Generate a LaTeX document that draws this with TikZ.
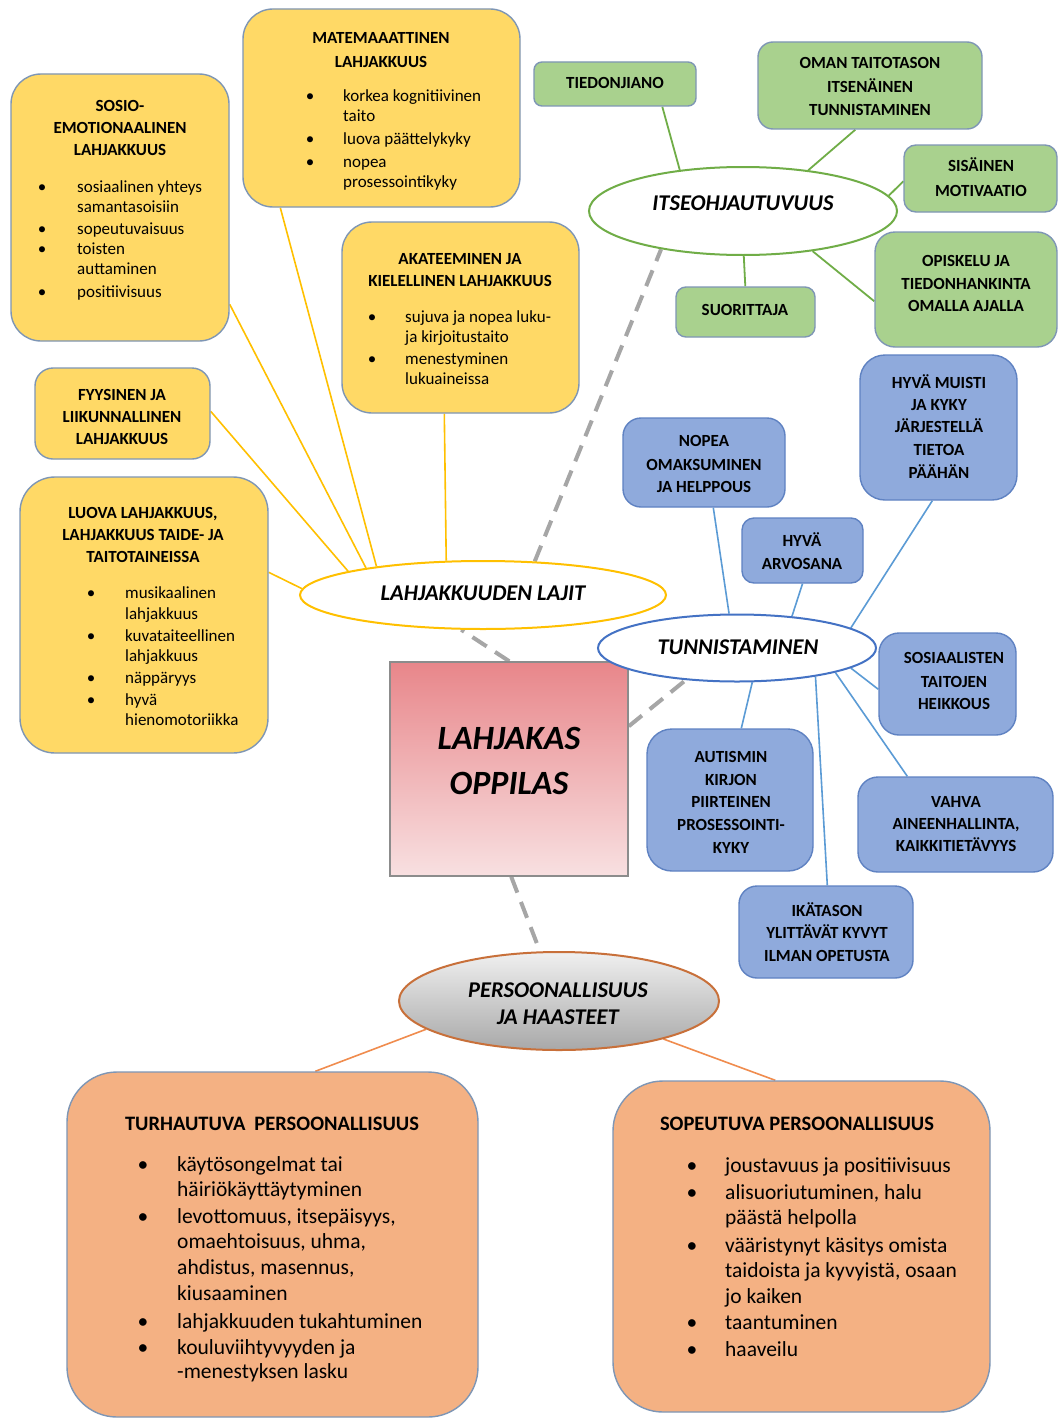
\documentclass[tikz,border=0pt]{standalone}
\usepackage{fontspec}
\setmainfont{Carlito}
\usetikzlibrary{shapes.geometric,calc,backgrounds}
\definecolor{yfill}{HTML}{FFD966}
\definecolor{yline}{HTML}{FFC000}
\definecolor{bord}{HTML}{7E96B5}
\definecolor{gfill}{HTML}{A9D18E}
\definecolor{gline}{HTML}{70AD47}
\definecolor{bfill}{HTML}{8FAADC}
\definecolor{bbord}{HTML}{5F82C2}
\definecolor{bline}{HTML}{5B9BD5}
\definecolor{tbord}{HTML}{4472C4}
\definecolor{ofill}{HTML}{F4B183}
\definecolor{oline}{HTML}{F08C4E}
\definecolor{pbord}{HTML}{C8703A}
\definecolor{dgray}{HTML}{A6A6A6}
\definecolor{ctop}{HTML}{E8868A}
\definecolor{cbot}{HTML}{F8E0E1}
\definecolor{cbord}{HTML}{8C8C8C}
\tikzset{
 boxbase/.style={rectangle, draw, line width=1.4, inner sep=0},
 ybox/.style={boxbase, draw=bord, fill=yfill},
 gbox/.style={boxbase, draw=bord, fill=gfill},
 bluebox/.style={boxbase, draw=bbord, fill=bfill},
 obox/.style={boxbase, draw=bord, fill=ofill},
 ellbase/.style={ellipse, draw, line width=2, fill=white, inner sep=0},
 ttl/.style={font=\fontsize{17}{20}\selectfont\bfseries, inner sep=0, anchor=base},
 txs/.style={font=\fontsize{17}{20}\selectfont, inner sep=0},
 btl/.style={font=\fontsize{20.5}{25}\selectfont\bfseries, inner sep=0, anchor=base},
 btx/.style={font=\fontsize{21.5}{26}\selectfont, inner sep=0},
 etx/.style={font=\fontsize{22.5}{26}\selectfont\bfseries\itshape, inner sep=0, anchor=base},
 ctx/.style={font=\fontsize{34}{40}\selectfont\bfseries\itshape, inner sep=0, anchor=base},
 yconn/.style={draw=yline, line width=1.6},
 gconn/.style={draw=gline, line width=1.8},
 bconn/.style={draw=bline, line width=1.6},
 oconn/.style={draw=oline, line width=1.6},
 dconn/.style={draw=dgray, line width=4, dash pattern=on 17pt off 10pt},
}
\newcommand\tlines[4]{%
 \foreach \yy/\ltx [count=\i] in {#4}{\node[#2] (#1-h\i) at (#3,\yy) {\ltx};}}
\newcommand\blist[5]{%
 \foreach \yy/\bb/\ltx [count=\i] in {#5}{%
   \node[#2, anchor=base west] (#1-t\i) at (#4,\yy) {\ltx};
   \ifnum\bb=1 \node[#2, anchor=base] (#1-b\i) at (#3,\yy) {\textbullet};\fi
 }}
\begin{document}
\begin{tikzpicture}[x=1pt,y=-1pt]
\useasboundingbox (0,0) rectangle (1063,1418);
\begin{scope}[on background layer]
\fill[white] (0,0) rectangle (1063,1418);
\end{scope}

% yellow boxes
\node[ybox, rounded corners=30, minimum width=218, minimum height=267] (sosio) at (120,207.5) {};
\node[ybox, rounded corners=30, minimum width=277, minimum height=198] (mat) at (381.5,108) {};
\node[ybox, rounded corners=30, minimum width=237, minimum height=191] (akat) at (460.5,317.5) {};
\node[ybox, rounded corners=18, minimum width=175, minimum height=91] (fyys) at (122.5,413.5) {};
\node[ybox, rounded corners=35, minimum width=248, minimum height=276] (luova) at (144,615) {};
% green boxes
\node[gbox, rounded corners=8, minimum width=162, minimum height=44] (tied) at (615,84) {};
\node[gbox, rounded corners=15, minimum width=224, minimum height=87] (oman) at (870,85.5) {};
\node[gbox, rounded corners=12, minimum width=153, minimum height=67] (sis) at (980.5,178.5) {};
\node[gbox, rounded corners=20, minimum width=182, minimum height=115] (opis) at (966,289.5) {};
\node[gbox, rounded corners=10, minimum width=139, minimum height=50] (suor) at (745.5,312) {};
% blue boxes
\node[bluebox, rounded corners=18, minimum width=162, minimum height=89] (nopea) at (704,462.5) {};
\node[bluebox, rounded corners=12, minimum width=121, minimum height=65] (arvo) at (802.5,550.5) {};
\node[bluebox, rounded corners=25, minimum width=157, minimum height=145] (muisti) at (938.5,427.5) {};
\node[bluebox, rounded corners=20, minimum width=137, minimum height=102] (sosi) at (947.5,684) {};
\node[bluebox, rounded corners=25, minimum width=166, minimum height=142] (aut) at (730,800) {};
\node[bluebox, rounded corners=20, minimum width=195, minimum height=95] (vahva) at (955.5,824.5) {};
\node[bluebox, rounded corners=18, minimum width=174, minimum height=92] (ika) at (826,932) {};
% orange boxes
\node[obox, rounded corners=50, minimum width=411, minimum height=345] (turh) at (272.5,1244.5) {};
\node[obox, rounded corners=50, minimum width=377, minimum height=331] (sope) at (801.5,1246.5) {};
% centre
\node[rectangle, draw=cbord, line width=1.5, top color=ctop, bottom color=cbot, minimum width=238, minimum height=214, inner sep=0] (core) at (509,769) {};
% ellipses
\node[ellbase, draw=yline, minimum width=366, minimum height=68] (lahj) at (483,595) {};
\node[ellbase, draw=gline, minimum width=308, minimum height=88] (itse) at (743,211) {};
\node[ellbase, draw=tbord, minimum width=278, minimum height=67] (tunn) at (737,648) {};
\node[ellbase, draw=pbord, top color=white!88!gray, middle color=white!94!gray, bottom color=gray!68, minimum width=320, minimum height=98] (pers) at (559,1001) {};

% connectors
\begin{scope}[on background layer]
\draw[yconn] ($(sosio.north east)+(0,231)$) -- (lahj.167.9);
\draw[yconn] ($(fyys.north east)+(0,44)$) -- (lahj.170.3);
\draw[yconn] ($(mat.south west)+(38,0)$) -- (lahj.165.7);
\draw[yconn] ($(akat.south west)+(103,0)$) -- (lahj.137.2);
\draw[yconn] ($(luova.north east)+(0,96)$) -- (lahj.178);
\draw[gconn] ($(tied.south west)+(129,0)$) -- (itse.147.5);
\draw[gconn] ($(oman.south west)+(98,0)$) -- (itse.32.5);
\draw[gconn] ($(sis.north west)+(0,37)$) -- (itse.6.2);
\draw[gconn] ($(opis.north west)+(0,70)$) -- (itse.330.8);
\draw[gconn] ($(suor.north west)+(70,0)$) -- (itse.271);
\draw[bconn] ($(nopea.south west)+(91,0)$) -- (tunn.103.5);
\draw[bconn] (arvo.south) -- (tunn.30.9);
\draw[bconn] ($(muisti.south west)+(73,0)$) -- (tunn.10.3);
\draw[bconn] ($(sosi.north west)+(0,57)$) -- (tunn.350.2);
\draw[bconn] ($(aut.north west)+(95,0)$) -- (tunn.294.2);
\draw[bconn] ($(vahva.north west)+(50,0)$) -- (tunn.346.4);
\draw[bconn] ($(ika.north west)+(89,0)$) -- (tunn.340.7);
\draw[oconn] ($(turh.north west)+(249,0)$) -- (pers.192.9);
\draw[oconn] ($(sope.north west)+(163,0)$) -- (pers.340.6);
\draw[dconn] ($(core.north west)+(120,0)$) -- (lahj.238.2);
\draw[dconn] (lahj.33.2) -- (itse.205.9);
\draw[dconn] ($(core.north east)+(0,65)$) -- (tunn.212.6);
\draw[dconn] ($(core.south west)+(122,0)$) -- (pers.111.7);
\end{scope}

% texts: yellow
\tlines{sosio}{ttl}{120}{112/SOSIO-, 133/EMOTIONAALINEN, 155/LAHJAKKUUS}
\blist{sosio}{txs}{42}{77}{192/1/sosiaalinen yhteys, 212/0/samantasoisiin, 234/1/sopeutuvaisuus, 254/1/toisten, 274/0/auttaminen, 297/1/positiivisuus}
\tlines{mat}{ttl}{381}{44/MATEMAAATTINEN, 68/LAHJAKKUUS}
\blist{mat}{txs}{310}{343}{102/1/korkea kognitiivinen, 122/0/taito, 144/1/luova päättelykyky, 167/1/nopea, 187/0/prosessointikyky}
\tlines{akat}{ttl}{460}{264/AKATEEMINEN JA, 286/KIELELLINEN LAHJAKKUUS}
\blist{akat}{txs}{372}{405}{322/1/sujuva ja nopea luku-, 342/0/ja kirjoitustaito, 364/1/menestyminen, 384/0/lukuaineissa}
\tlines{fyys}{ttl}{122}{400/FYYSINEN JA, 422/LIIKUNNALLINEN, 444/LAHJAKKUUS}
\tlines{luova}{ttl}{143}{518/{LUOVA LAHJAKKUUS,}, 540/LAHJAKKUUS TAIDE- JA, 562/TAITOTAINEISSA}
\blist{luova}{txs}{91}{125}{598/1/musikaalinen, 619/0/lahjakkuus, 641/1/kuvataiteellinen, 661/0/lahjakkuus, 683/1/näppäryys, 705/1/hyvä, 725/0/hienomotoriikka}
% green
\tlines{tied}{ttl}{615}{89/TIEDONJIANO}
\tlines{oman}{ttl}{870}{69/OMAN TAITOTASON, 93/ITSENÄINEN, 116/TUNNISTAMINEN}
\tlines{sis}{ttl}{981}{171/SISÄINEN, 196/MOTIVAATIO}
\tlines{opis}{ttl}{966}{266/OPISKELU JA, 289/TIEDONHANKINTA, 311/OMALLA AJALLA}
\tlines{suor}{ttl}{745}{315/SUORITTAJA}
% blue
\tlines{nopea}{ttl}{704}{446/NOPEA, 470/OMAKSUMINEN, 492/JA HELPPOUS}
\tlines{arvo}{ttl}{802}{546/HYVÄ, 569/ARVOSANA}
\tlines{muisti}{ttl}{939}{388/HYVÄ MUISTI, 410/JA KYKY, 432/JÄRJESTELLÄ, 455/TIETOA, 478/PÄÄHÄN}
\tlines{sosi}{ttl}{954}{663/SOSIAALISTEN, 687/TAITOJEN, 709/HEIKKOUS}
\tlines{aut}{ttl}{731}{762/AUTISMIN, 785/KIRJON, 807/PIIRTEINEN, 830/PROSESSOINTI-, 853/KYKY}
\tlines{vahva}{ttl}{956}{807/VAHVA, 829/{AINEENHALLINTA,}, 851/KAIKKITIETÄVYYS}
\tlines{ika}{ttl}{827}{916/IKÄTASON, 938/YLITTÄVÄT KYVYT, 961/ILMAN OPETUSTA}
% ellipses and centre
\node[etx] (itse-t) at (743,210) {ITSEOHJAUTUVUUS};
\node[etx] (lahj-t) at (483,600) {LAHJAKKUUDEN LAJIT};
\node[etx] (tunn-t) at (738,654) {TUNNISTAMINEN};
\node[etx] (pers-t1) at (558,997) {PERSOONALLISUUS};
\node[etx] (pers-t2) at (558,1024) {JA HAASTEET};
\node[ctx] (core-t1) at (509,749) {LAHJAKAS};
\node[ctx] (core-t2) at (509,794) {OPPILAS};
% orange
\node[btl] (turh-h) at (272,1130) {TURHAUTUVA\hspace{9pt}PERSOONALLISUUS};
\blist{turh}{btx}{143}{177}{1171/1/käytösongelmat tai, 1196/0/häiriökäyttäytyminen, 1223/1/{levottomuus, itsepäisyys,}, 1248/0/{omaehtoisuus, uhma,}, 1274/0/{ahdistus, masennus,}, 1300/0/kiusaaminen, 1328/1/lahjakkuuden tukahtuminen, 1354/1/kouluviihtyvyyden ja, 1378/0/-menestyksen lasku}
\node[btl] (sope-h) at (797,1130) {SOPEUTUVA PERSOONALLISUUS};
\blist{sope}{btx}{692}{725}{1172/1/joustavuus ja positiivisuus, 1199/1/{alisuoriutuminen, halu}, 1224/0/päästä helpolla, 1252/1/vääristynyt käsitys omista, 1277/0/{taidoista ja kyvyistä, osaan}, 1303/0/jo kaiken, 1329/1/taantuminen, 1356/1/haaveilu}
\end{tikzpicture}
\end{document}
